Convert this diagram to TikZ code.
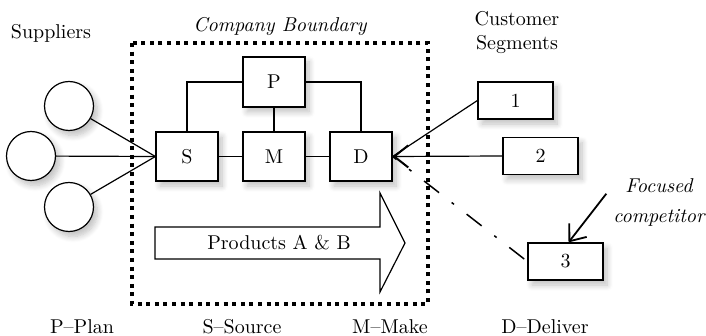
\documentclass[tikz,border=0pt]{standalone}
\usepackage{tikz}
\usetikzlibrary{shadows.blur,arrows.meta}

\begin{document}
\begin{tikzpicture}[x=0.5pt,y=-0.5pt,
  soft/.style={blur shadow={shadow xshift=2pt, shadow yshift=-2.5pt, shadow blur radius=3pt, shadow blur steps=8, shadow opacity=25}},
  box/.style={draw, fill=white, line width=0.6pt, minimum width=31pt, minimum height=24.5pt, inner sep=0pt, soft},
  seg/.style={box, minimum width=37.5pt, minimum height=18.5pt},
  supp/.style={draw, circle, fill=white, line width=0.6pt, minimum size=24.5pt, inner sep=0pt, soft},
  link/.style={line width=0.6pt}]
\useasboundingbox (0,0) rectangle (706,336);

\draw[line width=2pt, dash pattern=on 2pt off 2.3pt] (132,43) rectangle (428,304);

\node (sup) at (51,33) {Suppliers};
\node[font=\itshape] (cb) at (280,27) {Company Boundary};
\node[align=center] (cs) at (517,32.5) {Customer\\Segments};
\node[font=\itshape, align=center] (focus) at (659,203) {Focused\\[3pt]competitor};

\node[supp] (s1) at (69,106) {};
\node[supp] (s2) at (31,156) {};
\node[supp] (s3) at (69,207) {};

\node[box, minimum height=25pt] (P) at (274,82) {P};
\node[box] (S) at (187,156.5) {S};
\node[box] (M) at (274,156.5) {M};
\node[box] (D) at (361,156.5) {D};

\node[seg] (c1) at (515.5,100.5) {1};
\node[seg] (c2) at (540.5,156) {2};
\node[seg] (c3) at (565.5,261.5) {3};

\draw[link] (s1) -- (S.west);
\draw[link] (s2) -- (S.west);
\draw[link] (s3) -- (S.west);
\draw[link] (P.west) -| (S.north);
\draw[link] (P.east) -| (D.north);
\draw[link] (P) -- (M);
\draw[link] (S) -- (M);
\draw[link] (M) -- (D);

\draw[link] (c1.west) -- (D.east);
\draw[link, -{Straight Barb[length=7pt, width=11pt, line width=1pt]}] (c2.west) -- (D.east);
\draw[line width=0.75pt, dash pattern=on 9.5pt off 8pt on 1.5pt off 8pt, shorten <=2pt] (c3.west) -- (D.east);
\draw[line width=0.9pt, -{Straight Barb[length=7pt, width=11pt]}] (focus.170) -- ([xshift=1.5pt]c3.north);

\draw[link, fill=white] (155,227) -- (380,227) -- (380,193) -- (405,243) -- (380,292) -- (380,259) -- (155,259) -- cycle;
\node (prod) at (279,243) {Products A \& B};

\node[anchor=base] (pp) at (82,333) {P--Plan};
\node[anchor=base] (ss) at (242,333) {S--Source};
\node[anchor=base] (mm) at (390,333) {M--Make};
\node[anchor=base] (dd) at (545,333) {D--Deliver};
\end{tikzpicture}
\end{document}
